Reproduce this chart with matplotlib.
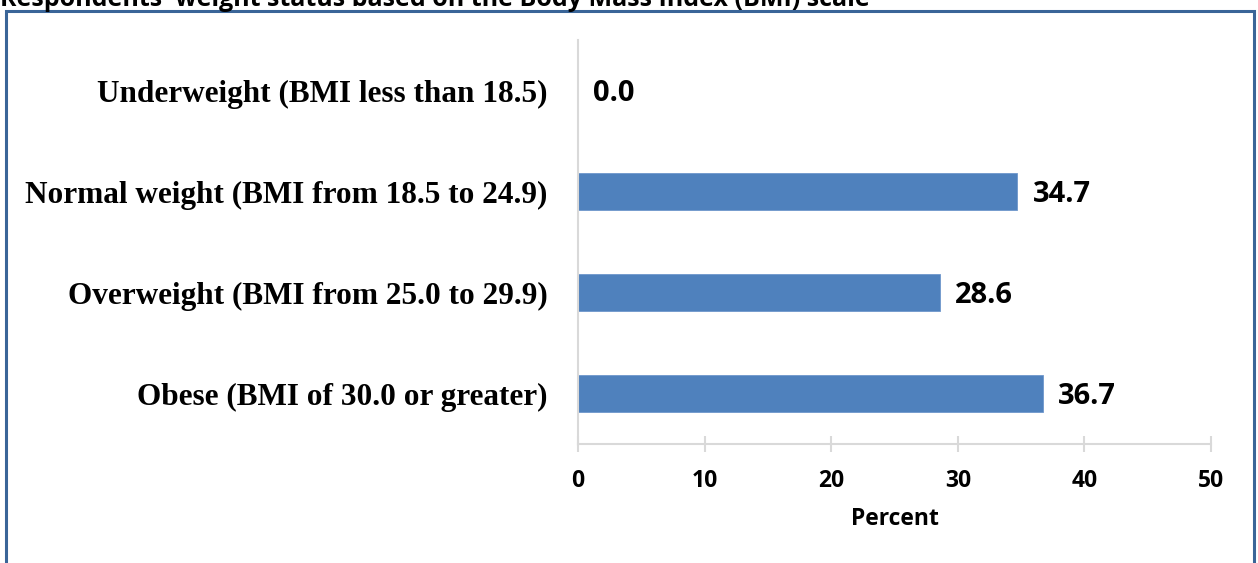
import matplotlib
matplotlib.use("Agg")
import matplotlib.pyplot as plt
from matplotlib.patches import Rectangle

# --- données ---
categories = [
    "Underweight (BMI less than 18.5)",
    "Normal weight (BMI from 18.5 to 24.9)",
    "Overweight (BMI from 25.0 to 29.9)",
    "Obese (BMI of 30.0 or greater)",
]
percent = [0.0, 34.7, 28.6, 36.7]
x_ticks = [0, 10, 20, 30, 40, 50]
title = "Respondents' weight status based on the Body Mass Index (BMI) scale"

W, H = 1258, 563
fig = plt.figure(figsize=(W / 100, H / 100), dpi=100)
ax = fig.add_axes([578 / W, 1 - 444 / H, (1211 - 578) / W, (444 - 40) / H])

bar_color = "#4F81BD"
grid_col = "#D9D9D9"
pos = list(range(len(categories)))
ax.barh(pos, percent, height=0.36, color=bar_color, edgecolor="#6F97CC", linewidth=0.6)

ax.set_xlim(0, 50)
ax.set_ylim(len(categories) - 0.5, -0.5)
ax.set_xticks(x_ticks)
ax.set_xticklabels([str(t) for t in x_ticks], fontfamily="Open Sans", fontweight="bold", fontsize=16.5)
ax.set_yticks(pos)
ax.set_yticklabels(categories, fontfamily="Liberation Serif", fontweight="bold", fontsize=22.5)

for side in ["top", "right"]:
    ax.spines[side].set_visible(False)
ax.spines["left"].set_color(grid_col)
ax.spines["bottom"].set_color(grid_col)
ax.spines["left"].set_linewidth(1.5)
ax.spines["bottom"].set_linewidth(1.5)
ax.tick_params(axis="x", direction="inout", length=12, width=1.5, color=grid_col, pad=12)
ax.tick_params(axis="y", length=0, pad=22)

ax.set_xlabel("Percent", fontfamily="Open Sans", fontweight="bold", fontsize=16.5)
ax.xaxis.label.set_va("center")
ax.xaxis.set_label_coords(0.5, -(519 - 444) / 404)

# étiquettes de valeurs
for p, v in zip(pos, percent):
    ax.annotate(f"{v:.1f}", xy=(v, p), xytext=(11, -2), textcoords="offset points",
                ha="left", va="center", fontfamily="Open Sans", fontweight="bold", fontsize=21)

# cadre et titre coupé
fig.patches.append(Rectangle((6 / W, -0.05), (1254 - 6) / W, 1 - 11 / H + 0.05,
                             transform=fig.transFigure, fill=False,
                             edgecolor="#3A6598", linewidth=2.2))
fig.text(0.0, 1 - 6 / H, title, ha="left", va="baseline", fontfamily="Open Sans",
         fontweight="bold", fontsize=18)

fig.savefig("out.png", dpi=100)
